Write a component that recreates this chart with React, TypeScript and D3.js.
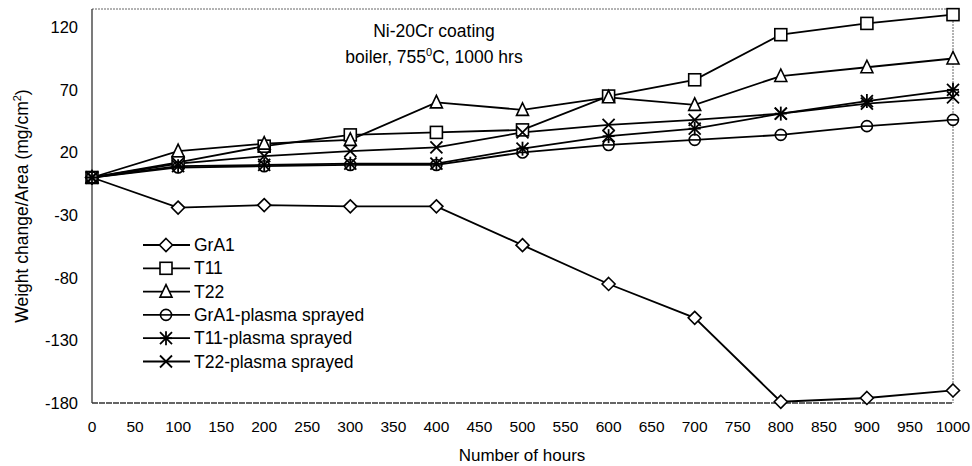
import * as d3 from "d3"
import React, { useEffect, useRef } from "react"

const hours = [0, 100, 200, 300, 400, 500, 600, 700, 800, 900, 1000]

const grA1 = [0, -24, -22, -23, -23, -54, -85, -112, -179, -176, -170]
const t11 = [0, 12, 25, 34, 36, 38, 65, 78, 114, 123, 130]
const t22 = [0, 21, 27, 30, 60, 54, 64, 58, 81, 88, 95]
const grA1Plasma = [0, 8, 9, 10, 10, 20, 26, 30, 34, 41, 46]
const t11Plasma = [0, 9, 10, 11, 11, 23, 33, 39, 51, 61, 70]
const t22Plasma = [0, 11, 17, 21, 24, 36, 42, 46, 51, 59, 64]

const seriesNames = [
  "GrA1",
  "T11",
  "T22",
  "GrA1-plasma sprayed",
  "T11-plasma sprayed",
  "T22-plasma sprayed",
]
const seriesValues = [grA1, t11, t22, grA1Plasma, t11Plasma, t22Plasma]
const seriesMarkers = ["diamond", "square", "triangle", "circle", "asterisk", "cross"]

const xTicks = d3.range(0, 1001, 50)
const yTicks = [-180, -130, -80, -30, 20, 70, 120]

const width = 972
const height = 466
const margin = { left: 92, right: 19, top: 9, bottom: 63 }
const font = "'Liberation Sans', Arial, sans-serif"

const drawMarker = (g, type, x, y) => {
  const s = 6
  if (type === "diamond") {
    g.append("path")
      .attr("d", `M${x},${y - s - 0.5}L${x + s + 0.5},${y}L${x},${y + s + 0.5}L${x - s - 0.5},${y}Z`)
      .attr("fill", "white")
      .attr("stroke", "black")
      .attr("stroke-width", 1.6)
  } else if (type === "square") {
    g.append("rect")
      .attr("x", x - s)
      .attr("y", y - s)
      .attr("width", 2 * s)
      .attr("height", 2 * s)
      .attr("fill", "white")
      .attr("stroke", "black")
      .attr("stroke-width", 1.6)
  } else if (type === "triangle") {
    g.append("path")
      .attr("d", `M${x},${y - s - 1}L${x + s},${y + s - 0.5}L${x - s},${y + s - 0.5}Z`)
      .attr("fill", "white")
      .attr("stroke", "black")
      .attr("stroke-width", 1.6)
  } else if (type === "circle") {
    g.append("circle")
      .attr("cx", x)
      .attr("cy", y)
      .attr("r", s - 0.5)
      .attr("fill", "white")
      .attr("stroke", "black")
      .attr("stroke-width", 1.6)
    g.append("line")
      .attr("x1", x - s + 0.5)
      .attr("x2", x + s - 0.5)
      .attr("y1", y)
      .attr("y2", y)
      .attr("stroke", "black")
      .attr("stroke-width", 1.6)
  } else if (type === "asterisk") {
    const p = g.append("g").attr("stroke", "black").attr("stroke-width", 1.8)
    p.append("line").attr("x1", x - s).attr("x2", x + s).attr("y1", y - s).attr("y2", y + s)
    p.append("line").attr("x1", x - s).attr("x2", x + s).attr("y1", y + s).attr("y2", y - s)
    p.append("line").attr("x1", x).attr("x2", x).attr("y1", y - s - 1).attr("y2", y + s + 1)
    p.append("line").attr("x1", x - s).attr("x2", x + s).attr("y1", y).attr("y2", y)
  } else if (type === "cross") {
    const p = g.append("g").attr("stroke", "black").attr("stroke-width", 1.8)
    p.append("line").attr("x1", x - s).attr("x2", x + s).attr("y1", y - s).attr("y2", y + s)
    p.append("line").attr("x1", x - s).attr("x2", x + s).attr("y1", y + s).attr("y2", y - s)
  }
}

const Chart = () => {
  const ref = useRef(null)

  useEffect(() => {
    const svg = d3.select(ref.current)
    svg.selectAll("*").remove()

    const x = d3
      .scaleLinear()
      .domain([0, 1000])
      .range([margin.left, width - margin.right])
    const y = d3
      .scaleLinear()
      .domain([-180, 134.5])
      .range([height - margin.bottom, margin.top])

    // frame: dotted top/right, solid left, dashed bottom
    svg.append("line")
      .attr("x1", x(0)).attr("x2", x(1000))
      .attr("y1", y(134.5)).attr("y2", y(134.5))
      .attr("stroke", "#666").attr("stroke-dasharray", "2,1")
    svg.append("line")
      .attr("x1", x(1000)).attr("x2", x(1000))
      .attr("y1", y(134.5)).attr("y2", y(-180))
      .attr("stroke", "#666").attr("stroke-dasharray", "2,1")
    svg.append("line")
      .attr("x1", x(0)).attr("x2", x(0))
      .attr("y1", y(134.5)).attr("y2", y(-180))
      .attr("stroke", "#333").attr("stroke-width", 1.3)
    svg.append("line")
      .attr("x1", x(0)).attr("x2", x(1000))
      .attr("y1", y(-180)).attr("y2", y(-180))
      .attr("stroke", "#333").attr("stroke-width", 1.3).attr("stroke-dasharray", "6,1")

    // tick labels
    svg.append("g")
      .selectAll("text")
      .data(xTicks)
      .join("text")
      .attr("x", (d) => x(d))
      .attr("y", 432)
      .attr("text-anchor", "middle")
      .attr("font-family", font)
      .attr("font-size", 15.5)
      .text((d) => d)
    svg.append("g")
      .selectAll("text")
      .data(yTicks)
      .join("text")
      .attr("x", 78)
      .attr("y", (d) => y(d) + 6)
      .attr("text-anchor", "end")
      .attr("font-family", font)
      .attr("font-size", 16.5)
      .text((d) => d)

    // axis titles
    svg.append("text")
      .attr("x", 522)
      .attr("y", 461)
      .attr("text-anchor", "middle")
      .attr("font-family", font)
      .attr("font-size", 17)
      .text("Number of hours")
    const yt = svg.append("text")
      .attr("transform", `translate(28,206) rotate(-90)`)
      .attr("text-anchor", "middle")
      .attr("font-family", font)
      .attr("font-size", 17.5)
    yt.append("tspan").text("Weight change/Area (mg/cm")
    yt.append("tspan").attr("font-size", 11).attr("dy", -7).text("2")
    yt.append("tspan").attr("dy", 7).text(")")

    // chart title
    svg.append("text")
      .attr("x", 434)
      .attr("y", 37)
      .attr("text-anchor", "middle")
      .attr("font-family", font)
      .attr("font-size", 17.5)
      .text("Ni-20Cr coating")
    const t2 = svg.append("text")
      .attr("x", 434)
      .attr("y", 63)
      .attr("text-anchor", "middle")
      .attr("font-family", font)
      .attr("font-size", 17.5)
    t2.append("tspan").text("boiler, 755")
    t2.append("tspan").attr("font-size", 11).attr("dy", -7).text("0")
    t2.append("tspan").attr("dy", 7).text("C, 1000 hrs")

    const line = d3
      .line()
      .x((d) => x(d[0]))
      .y((d) => y(d[1]))

    seriesValues.forEach((vals) => {
      const pts = hours.map((h, j) => [h, vals[j]])
      svg.append("path")
        .datum(pts)
        .attr("fill", "none")
        .attr("stroke", "black")
        .attr("stroke-width", 1.8)
        .attr("d", line)
    })
    seriesValues.forEach((vals, i) => {
      const g = svg.append("g")
      hours.forEach((h, j) => drawMarker(g, seriesMarkers[i], x(h), y(vals[j])))
    })

    // legend
    const lg = svg.append("g")
    seriesNames.forEach((name, i) => {
      const ly = 245 + i * 23.3
      lg.append("line")
        .attr("x1", 143).attr("x2", 190)
        .attr("y1", ly).attr("y2", ly)
        .attr("stroke", "black").attr("stroke-width", 1.8)
      drawMarker(lg, seriesMarkers[i], 166, ly)
      lg.append("text")
        .attr("x", 194)
        .attr("y", ly + 6)
        .attr("font-family", font)
        .attr("font-size", 17.5)
        .text(name)
    })
  }, [])

  return <svg width={width} height={height} ref={ref} style={{ display: "block" }} />
}

export default function App() {
  return (
    <div style={{ position: "absolute", left: 0, top: 0 }}>
      <Chart />
    </div>
  )
}
